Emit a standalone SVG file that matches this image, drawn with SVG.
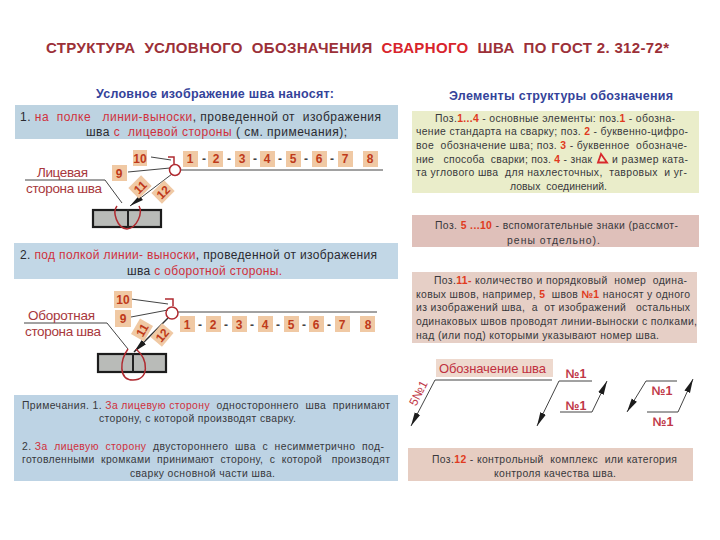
<svg xmlns="http://www.w3.org/2000/svg" width="720" height="540" viewBox="0 0 720 540">
<style>
text{font-family:"Liberation Sans",Arial,sans-serif;white-space:pre}
.t{font-size:12px;fill:#2a2a30}
.s{font-size:10.4px;fill:#38383c}
.r{fill:#d0303c}
.o{fill:#e03a20;font-weight:bold}
.h{font-size:12.5px;font-weight:bold;fill:#34439a}
.b{fill:#f0c9a4}
.n{font-size:12px;font-weight:bold;fill:#bf3a1a;text-anchor:middle}
.d{font-size:12px;font-weight:bold;fill:#444;text-anchor:middle}
.lab{font-size:13.5px;fill:#a8383c}
.no{font-size:12.5px;font-weight:bold;fill:#c03848;text-anchor:middle}
.l{fill:none;stroke:#444;stroke-width:1}
.k{fill:none;stroke:#222;stroke-width:2}
.red{fill:none;stroke:#b02a30;stroke-width:1.5}
.plate{fill:#b9bbb8;stroke:#1c1c1c;stroke-width:2.2}
</style>
<defs>
<marker id="ar" viewBox="0 0 14 8" refX="14" refY="4" markerWidth="14" markerHeight="8" markerUnits="userSpaceOnUse" orient="auto"><path d="M0 1L14 4L0 7Z" fill="#1c1c1c"/></marker>
</defs>
<rect width="720" height="540" fill="#fff"/>
<text id="title" x="46" y="53" font-size="15" font-weight="bold" fill="#9c3038" textLength="623">СТРУКТУРА  УСЛОВНОГО  ОБОЗНАЧЕНИЯ  <tspan fill="#d8242c">СВАРНОГО</tspan>  ШВА  ПО ГОСТ 2. 312-72*</text>
<text class="h" x="96" y="98" textLength="238">Условное изображение шва наносят:</text>
<text class="h" x="449" y="100" textLength="224">Элементы структуры обозначения</text>

<g id="panel-1">
<rect x="15" y="105" width="383" height="34" fill="#bdd3e1"/>
<text class="t" x="20" y="121" textLength="361">1. <tspan class="r">на  полке   линии-выноски</tspan>, проведенной от  изображения</text>
<text class="t" x="86" y="136" textLength="261">шва <tspan class="r">с  лицевой стороны</tspan> ( см. примечания);</text>
</g>

<g id="connectors-1">
<path class="l" d="M180 170H383"/>
<path class="l" d="M128 172L170 168M151 157L171 160"/>
<path class="l" d="M25 180H105L122 203"/>
<path d="M172 174L130 206" fill="none" stroke="#444" stroke-width="1" marker-end="url(#ar)"/>
<path class="red" d="M168 157H174V164"/>
</g>
<g id="weld-symbol-1"><circle class="red" cx="175" cy="170" r="5.5"/></g>
<g id="plate-1">
<rect class="plate" x="93" y="210" width="68" height="17"/>
<path class="k" d="M128 209V228"/>
<path class="red" d="M117 206C112 212 117 228 127 229C137 228 143 213 139 206"/>
</g>
<g id="label-face"><text class="lab" x="37" y="177" textLength="51">Лицевая</text>
<text class="lab" x="26" y="193" textLength="76">сторона шва</text></g>
<g id="badges-1">
<rect class="b" x="133" y="150" width="14" height="16"/><text class="n" x="140" y="163">10</text>
<rect class="b" x="112" y="165" width="15" height="16"/><text class="n" x="119" y="178">9</text>
<rect class="b" x="183" y="151" width="15" height="16"/><text class="n" x="190" y="163">1</text>
<rect class="b" x="208" y="151" width="15" height="16"/><text class="n" x="216" y="163">2</text>
<rect class="b" x="235" y="151" width="15" height="16"/><text class="n" x="242" y="163">3</text>
<rect class="b" x="260" y="151" width="15" height="16"/><text class="n" x="267" y="163">4</text>
<rect class="b" x="286" y="151" width="15" height="16"/><text class="n" x="293" y="163">5</text>
<rect class="b" x="312" y="151" width="15" height="16"/><text class="n" x="319" y="163">6</text>
<rect class="b" x="338" y="151" width="15" height="16"/><text class="n" x="345" y="163">7</text>
<rect class="b" x="363" y="151" width="15" height="16"/><text class="n" x="370" y="163">8</text>
<text class="d" x="204" y="163">-</text><text class="d" x="229" y="163">-</text><text class="d" x="255" y="163">-</text><text class="d" x="280" y="163">-</text><text class="d" x="306" y="163">-</text><text class="d" x="332" y="163">-</text>
<g transform="translate(140 187) rotate(-45)"><rect class="b" x="-9" y="-7.5" width="18" height="15"/><text class="n" y="4.5">11</text></g>
<g transform="translate(163 192) rotate(-45)"><rect class="b" x="-9" y="-7.5" width="18" height="15"/><text class="n" y="4.5">12</text></g>
</g>

<g id="panel-2">
<rect x="14" y="243" width="384" height="36" fill="#c2d7e6"/>
<text class="t" x="20" y="259" textLength="357">2. <tspan class="r">под полкой линии- выноски</tspan>, проведенной от изображения</text>
<text class="t" x="127" y="275" textLength="155">шва <tspan class="r">с оборотной стороны.</tspan></text>
</g>

<g id="connectors-2">
<path class="l" d="M178 312H377"/>
<path class="l" d="M131 299L168 304M131 317L168 310"/>
<path class="l" d="M24 323H107L128 349"/>
<path d="M168 318L134 352" fill="none" stroke="#333" stroke-width="1.4" marker-end="url(#ar)"/>
<path class="red" d="M165 299H173V306"/>
</g>
<g id="weld-symbol-2"><circle class="red" cx="172" cy="313" r="6"/></g>
<g id="plate-2">
<rect class="plate" x="98" y="354" width="68" height="18"/>
<path class="k" d="M133 353V373"/>
<path class="red" d="M128 349C120 360 118 380 133 380C149 380 149 360 136 349"/>
</g>
<g id="label-back"><text class="lab" x="28" y="320" textLength="67">Оборотная</text>
<text class="lab" x="25" y="336" textLength="76">сторона шва</text></g>
<g id="badges-2">
<rect class="b" x="114" y="291" width="18" height="17"/><text class="n" x="123" y="304">10</text>
<rect class="b" x="115" y="310" width="16" height="17"/><text class="n" x="123" y="323">9</text>
<rect class="b" x="180" y="316" width="15" height="16"/><text class="n" x="187" y="329">1</text>
<rect class="b" x="206" y="316" width="15" height="16"/><text class="n" x="213" y="329">2</text>
<rect class="b" x="232" y="316" width="15" height="16"/><text class="n" x="239" y="329">3</text>
<rect class="b" x="258" y="316" width="15" height="16"/><text class="n" x="265" y="329">4</text>
<rect class="b" x="284" y="316" width="15" height="16"/><text class="n" x="291" y="329">5</text>
<rect class="b" x="309" y="316" width="15" height="16"/><text class="n" x="316" y="329">6</text>
<rect class="b" x="335" y="316" width="15" height="16"/><text class="n" x="342" y="329">7</text>
<rect class="b" x="360" y="316" width="15" height="16"/><text class="n" x="368" y="329">8</text>
<text class="d" x="200" y="329">-</text><text class="d" x="226" y="329">-</text><text class="d" x="252" y="329">-</text><text class="d" x="278" y="329">-</text><text class="d" x="304" y="329">-</text><text class="d" x="329" y="329">-</text>
<g transform="translate(142 330) rotate(-60)"><rect class="b" x="-9" y="-7.5" width="18" height="15"/><text class="n" y="4.5">11</text></g>
<g transform="translate(162 335) rotate(-50)"><rect class="b" x="-9" y="-7.5" width="18" height="15"/><text class="n" y="4.5">12</text></g>
</g>

<g id="notes">
<rect x="14" y="395" width="384" height="86" fill="#bdd3e4"/>
<text class="s" x="22" y="409" textLength="368">Примечания. 1. <tspan class="r">За лицевую сторону</tspan>  одностороннего  шва  принимают</text>
<text class="s" x="99" y="422" textLength="197">сторону, с которой производят сварку.</text>
<text class="s" x="22" y="450" textLength="362">2. <tspan class="r">За  лицевую  сторону</tspan>  двустороннего  шва  с  несимметрично  под-</text>
<text class="s" x="22" y="463" textLength="368">готовленными  кромками  принимают  сторону,  с  которой   производят</text>
<text class="s" x="130" y="477" textLength="145">сварку основной части шва.</text>
</g>

<g id="panel-a">
<rect x="412" y="111" width="287" height="82" fill="#eaedca"/>
<text class="s" x="435" y="122" textLength="240">Поз.<tspan class="o">1...4</tspan> - основные элементы: поз.<tspan class="o">1</tspan> - обозна-</text>
<text class="s" x="416" y="135" textLength="272">чение стандарта на сварку; поз. <tspan class="o">2</tspan> - буквенно-цифро-</text>
<text class="s" x="416" y="149" textLength="271">вое  обозначение шва; поз. <tspan class="o">3</tspan> - буквенное  обозначе-</text>
<text class="s" x="416" y="163" textLength="176">ние   способа  сварки; поз. <tspan class="o">4</tspan> - знак</text>
<path d="M598 162.500L601 154L607 162.500Z" fill="none" stroke="#d8282c" stroke-width="1.800"/>
<text class="s" x="612" y="163" textLength="76">и размер ката-</text>
<text class="s" x="416" y="176" textLength="271">та углового шва  для нахлесточных,  тавровых  и уг-</text>
<text class="s" x="510" y="190" textLength="97">ловых  соединений.</text>
</g>

<g id="panel-b">
<rect x="412" y="215" width="287" height="32" fill="#dfc0ba"/>
<text class="s" x="435" y="229" textLength="243">Поз. <tspan class="o">5 ...10</tspan> - вспомогательные знаки (рассмот-</text>
<text class="s" x="507" y="244" textLength="93">рены отдельно).</text>
</g>

<g id="panel-c">
<rect x="412" y="272" width="285" height="71" fill="#e6cfc6"/>
<text class="s" x="434" y="284" textLength="253">Поз.<tspan class="o">11-</tspan> количество и порядковый  номер  одина-</text>
<text class="s" x="416" y="298" textLength="274">ковых швов, например, <tspan class="o">5</tspan>  швов <tspan class="o">№1</tspan> наносят у одного</text>
<text class="s" x="416" y="311" textLength="274">из изображений шва,  а  от изображений   остальных</text>
<text class="s" x="416" y="325" textLength="281">одинаковых швов проводят линии-выноски с полками,</text>
<text class="s" x="416" y="339" textLength="243">над (или под) которыми указывают номер шва.</text>
</g>

<g id="label-designation">
<rect x="436" y="359" width="117" height="18" fill="#eed9ce"/>
<text x="439" y="373" font-size="13" fill="#c03040" textLength="107">Обозначение шва</text>
</g>
<g id="leaders">
<path d="M552 380H435L411 426" class="l" marker-end="url(#ar)"/>
<path d="M592 381H559L537 426" class="l" marker-end="url(#ar)"/>
<path d="M560 412H592L607 381" class="l" marker-end="url(#ar)"/>
<path d="M677 381H646L627 412" class="l" marker-end="url(#ar)"/>
<path d="M647 412H678L693 379" class="l" marker-end="url(#ar)"/>
</g>
<g id="leader-labels">
<text class="no" transform="translate(422 395) rotate(-63)" style="font-size:12px;font-weight:normal">5№1</text>
<text class="no" x="576" y="378">№1</text>
<text class="no" x="576" y="410">№1</text>
<text class="no" x="662" y="395">№1</text>
<text class="no" x="663" y="426">№1</text>
</g>

<g id="panel-d">
<rect x="408" y="448" width="285" height="33" fill="#e6cdc2"/>
<text class="s" x="432" y="463" textLength="245">Поз.<tspan class="o">12</tspan> - контрольный  комплекс  или категория</text>
<text class="s" x="494" y="477" textLength="122">контроля качества шва.</text>
</g>
</svg>
